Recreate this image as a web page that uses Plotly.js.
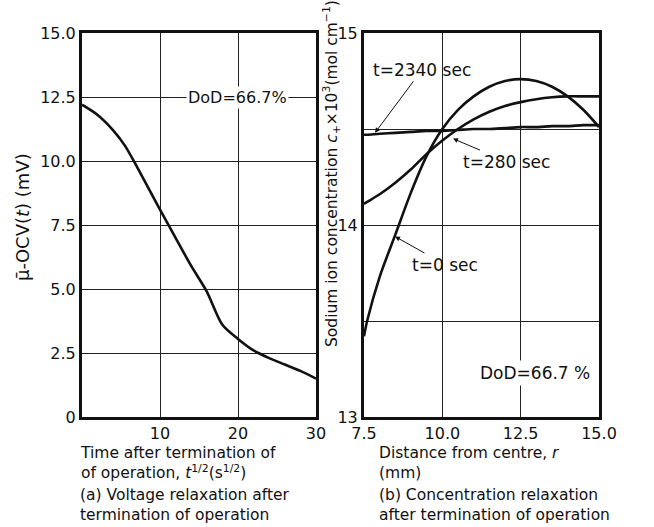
<!DOCTYPE html>
<html><head><meta charset="utf-8">
<script src="https://cdn.plot.ly/plotly-3.0.1.min.js"></script>
<style>body{margin:0;background:#fff}</style>
</head><body><div id="chart" style="width:654px;height:527px"></div>
<script>
// (a) voltage relaxation
const timeSqrt = [0, 2, 4, 5.5, 7, 10, 12, 14, 16, 18, 20, 22, 24, 26, 28, 30];
const voltage  = [12.2, 11.8, 11.2, 10.6, 9.8, 8.1, 7.0, 5.9, 4.9, 3.6, 3.05, 2.6, 2.3, 2.05, 1.8, 1.5];
// (b) concentration profiles
const radius = [7.5, 7.6, 8.0, 8.5, 9.0, 9.5, 10.0, 10.5, 11.0, 11.5, 12.0, 12.5, 13.0, 13.5, 14.0, 14.5, 15.0];
const conc0    = [13.42, 13.5, 13.73, 13.95, 14.17, 14.36, 14.5, 14.6, 14.67, 14.72, 14.75, 14.76, 14.75, 14.72, 14.67, 14.6, 14.51];
const conc280  = [14.11, 14.12, 14.16, 14.22, 14.29, 14.37, 14.44, 14.5, 14.55, 14.59, 14.62, 14.64, 14.655, 14.665, 14.67, 14.67, 14.67];
const conc2340 = [14.47, 14.47, 14.475, 14.48, 14.485, 14.49, 14.49, 14.495, 14.5, 14.5, 14.505, 14.51, 14.51, 14.515, 14.515, 14.52, 14.52];
const leftYTicks = [0, 2.5, 5, 7.5, 10, 12.5, 15];
const leftYText  = ["0", "2.5", "5.0", "7.5", "10.0", "12.5", "15.0"];
const leftXTicks = [10, 20, 30];
const rightXTicks = [7.5, 10, 12.5, 15];
const rightXText  = ["7.5", "10.0", "12.5", "15.0"];
const rightYTicks = [13, 14, 15];
const leftCaption = ["Time after termination of<br>of operation, <i>t</i><sup>1/2</sup>(s<sup>1/2</sup>)",
                     "(a) Voltage relaxation after<br>termination of operation"];
const rightCaption = ["Distance from centre, <i>r</i><br>(mm)",
                      "(b) Concentration relaxation<br>after termination of operation"];

const FONT = "DejaVu Sans, sans-serif";
const line = {color: "#111", width: 2.6, shape: "spline", smoothing: 0.8};

const traces = [
  {x: timeSqrt, y: voltage, mode: "lines", line: line, xaxis: "x", yaxis: "y", showlegend: false},
  {x: radius, y: conc0, mode: "lines", line: line, xaxis: "x2", yaxis: "y2", showlegend: false},
  {x: radius, y: conc280, mode: "lines", line: line, xaxis: "x2", yaxis: "y2", showlegend: false},
  {x: radius, y: conc2340, mode: "lines", line: line, xaxis: "x2", yaxis: "y2", showlegend: false}
];

const axBase = {showline: true, mirror: true, linecolor: "#111", linewidth: 3, ticks: "",
  showgrid: true, gridcolor: "#222", gridwidth: 1, zeroline: false,
  tickfont: {family: FONT, size: 16, color: "#111"}, automargin: false};

const yDom = [1 - 417 / 527, 1 - 33 / 527];
const capFont = {family: FONT, size: 15.5, color: "#111"};
const blockTop = [443, 485];

const annotations = [
  {xref: "paper", yref: "paper", x: 22 / 654, y: 1 - 217 / 527, xanchor: "center", yanchor: "middle",
    textangle: -90, text: "μ̄-OCV(<i>t</i>) (mV)", showarrow: false, font: {family: FONT, size: 18}},
  {xref: "paper", yref: "paper", x: 331 / 654, y: 1 - 174 / 527, xanchor: "center", yanchor: "middle",
    textangle: -90,
    text: "Sodium ion concentration <i>c</i><sub>+</sub>×10<sup>3</sup>(mol cm<sup>−1</sup>)",
    showarrow: false, font: {family: FONT, size: 15.5}},
  {xref: "x", yref: "y", x: 19.9, y: 12.5, text: "DoD=66.7%", showarrow: false,
    bgcolor: "#fff", font: {family: FONT, size: 16}, borderpad: 1},
  {xref: "x2", yref: "y2", x: 12.96, y: 13.23, text: "DoD=66.7 %", showarrow: false,
    bgcolor: "#fff", font: {family: FONT, size: 17}, borderpad: 2},
  {xref: "x2", yref: "y2", x: 7.85, y: 14.48, text: "t=2340 sec", showarrow: true,
    ax: 47, ay: -63, arrowhead: 2, arrowsize: 1, arrowwidth: 1, arrowcolor: "#111",
    font: {family: FONT, size: 17}},
  {xref: "x2", yref: "y2", x: 10.34, y: 14.45, text: "t=280 sec", showarrow: true,
    ax: 54, ay: 23, arrowhead: 2, arrowsize: 1, arrowwidth: 1, arrowcolor: "#111",
    font: {family: FONT, size: 17}},
  {xref: "x2", yref: "y2", x: 8.49, y: 13.94, text: "t=0 sec", showarrow: true,
    ax: 50, ay: 28, arrowhead: 2, arrowsize: 1, arrowwidth: 1, arrowcolor: "#111",
    font: {family: FONT, size: 17}}
];
leftCaption.forEach((t, i) => annotations.push({xref: "paper", yref: "paper",
  x: 79 / 654, y: 1 - blockTop[i] / 527, xanchor: "left", yanchor: "top", align: "left",
  showarrow: false, font: capFont, text: t, borderpad: 0}));
rightCaption.forEach((t, i) => annotations.push({xref: "paper", yref: "paper",
  x: 378 / 654, y: 1 - blockTop[i] / 527, xanchor: "left", yanchor: "top", align: "left",
  showarrow: false, font: capFont, text: t, borderpad: 0}));

const layout = {
  width: 654, height: 527, autosize: false,
  margin: {l: 0, r: 0, t: 0, b: 0},
  paper_bgcolor: "#fff", plot_bgcolor: "#fff",
  font: {family: FONT, size: 14, color: "#111"},
  xaxis: Object.assign({}, axBase, {domain: [82 / 654, 316 / 654], range: [0, 30],
    tickmode: "array", tickvals: leftXTicks, anchor: "y"}),
  yaxis: Object.assign({}, axBase, {domain: yDom, range: [0, 15],
    tickmode: "array", tickvals: leftYTicks, ticktext: leftYText, anchor: "x"}),
  xaxis2: Object.assign({}, axBase, {domain: [364 / 654, 599 / 654], range: [7.5, 15],
    tickmode: "array", tickvals: rightXTicks, ticktext: rightXText, anchor: "y2"}),
  yaxis2: Object.assign({}, axBase, {domain: yDom, range: [13, 15],
    tickmode: "array", tickvals: rightYTicks, anchor: "x2",
    minor: {tickmode: "linear", dtick: 0.5, showgrid: true, gridcolor: "#222", gridwidth: 1, ticks: ""}}),
  annotations: annotations
};

Plotly.newPlot("chart", traces, layout, {staticPlot: true, displayModeBar: false});
</script></body></html>
